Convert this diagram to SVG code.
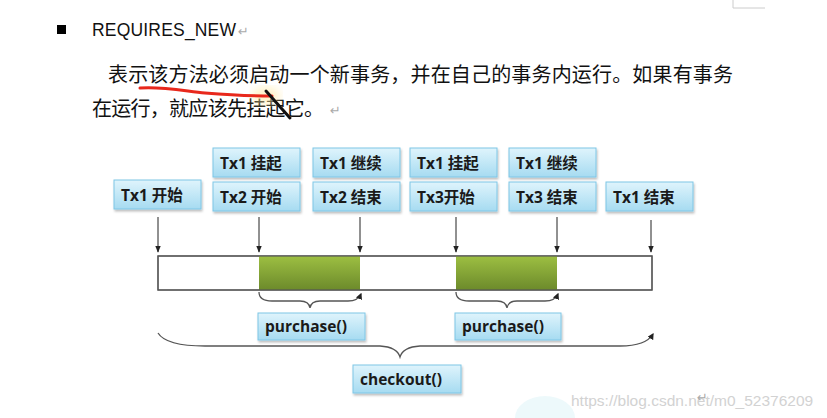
<svg xmlns="http://www.w3.org/2000/svg" width="827" height="418" viewBox="0 0 827 418">
<defs>
<linearGradient id="boxg" x1="0" y1="0" x2="0" y2="1">
<stop offset="0" stop-color="#dff4fc"/>
<stop offset="1" stop-color="#a6dbf1"/>
</linearGradient>
<linearGradient id="greeng" x1="0" y1="0" x2="0" y2="1">
<stop offset="0" stop-color="#9dbf42"/>
<stop offset="1" stop-color="#6c8a2b"/>
</linearGradient>
<filter id="sh" x="-10%" y="-20%" width="130%" height="150%">
<feDropShadow dx="1" dy="2" stdDeviation="1.2" flood-color="#000" flood-opacity="0.25"/>
</filter>
<filter id="blur"><feGaussianBlur stdDeviation="5"/></filter>
<marker id="ah" viewBox="0 0 10 10" refX="9" refY="5" markerWidth="7" markerHeight="7" orient="auto">
<path d="M0,1 L10,5 L0,9 Z" fill="#222"/>
</marker>
<marker id="bh" viewBox="0 0 10 10" refX="8" refY="5" markerWidth="5" markerHeight="5" orient="auto">
<path d="M0,0 L10,5 L0,10 Z" fill="#222"/>
</marker>
<style>
.box{fill:url(#boxg);stroke:#7ec6e6;stroke-width:1;filter:url(#sh)}
.bt{font-family:"Open Sans","Noto Sans CJK SC",sans-serif;font-weight:bold;font-size:15.5px;fill:#1a1a1a}
.arr{stroke:#222;stroke-width:1;fill:none;marker-end:url(#ah)}
.brace{stroke:#555;stroke-width:1.3;fill:none;marker-end:url(#bh)}
.cn{font-family:"Noto Sans CJK SC",sans-serif;font-size:20px;fill:#111}
.ret{font-family:"DejaVu Sans",sans-serif;font-size:13px;fill:#aaa}
</style>
</defs>
<rect width="827" height="418" fill="#fff"/>
<path d="M733,0 V8 H765" stroke="#ccc" stroke-width="1" fill="none"/>
<g id="header">
<rect x="57" y="25" width="9" height="9" fill="#000"/>
<text x="92" y="36" font-family="Liberation Sans, sans-serif" font-size="17.5" fill="#111" textLength="144">REQUIRES_NEW</text>
<text x="238" y="36" class="ret">↵</text>
</g>
<g id="paragraph">
<text x="108" y="82" class="cn" textLength="625">表示该方法必须启动一个新事务，并在自己的事务内运行。如果有事务</text>
<text x="92" y="116" class="cn" textLength="232">在运行，就应该先挂起它。</text>
<text x="330" y="115" class="ret">↵</text>
<ellipse cx="266" cy="96" rx="14" ry="9" fill="#ffe9a0" opacity="0.6" filter="url(#blur)"/>
<path d="M140,88 C160,86 185,91 205,93 C230,95 250,96 272,96" stroke="#e8281c" stroke-width="3" fill="none" stroke-linecap="round"/>
<path d="M266,91 L290,118" stroke="#111" stroke-width="3" stroke-linecap="round"/>
</g>
<g id="n-tx1-start"><rect class="box" x="114" y="180" width="87" height="29"/><text class="bt" x="121" y="201">Tx1 开始</text></g>
<g id="n-tx1-suspend-a"><rect class="box" x="213" y="148" width="87" height="29"/><text class="bt" x="220" y="169">Tx1 挂起</text></g>
<g id="n-tx2-start"><rect class="box" x="213" y="182" width="87" height="29"/><text class="bt" x="220" y="203">Tx2 开始</text></g>
<g id="n-tx1-resume-a"><rect class="box" x="313" y="148" width="87" height="29"/><text class="bt" x="320" y="169">Tx1 继续</text></g>
<g id="n-tx2-end"><rect class="box" x="313" y="182" width="87" height="29"/><text class="bt" x="320" y="203">Tx2 结束</text></g>
<g id="n-tx1-suspend-b"><rect class="box" x="410" y="148" width="87" height="29"/><text class="bt" x="417" y="169">Tx1 挂起</text></g>
<g id="n-tx3-start"><rect class="box" x="410" y="182" width="87" height="29"/><text class="bt" x="417" y="203">Tx3开始</text></g>
<g id="n-tx1-resume-b"><rect class="box" x="509" y="148" width="87" height="29"/><text class="bt" x="516" y="169">Tx1 继续</text></g>
<g id="n-tx3-end"><rect class="box" x="509" y="182" width="87" height="29"/><text class="bt" x="516" y="203">Tx3 结束</text></g>
<g id="n-tx1-end"><rect class="box" x="606" y="182" width="87" height="29"/><text class="bt" x="613" y="203">Tx1 结束</text></g>
<g id="timeline">
<rect x="158" y="256" width="494" height="34" fill="#fff" stroke="#555" stroke-width="1.2"/>
<rect x="259" y="256" width="101" height="34" fill="url(#greeng)"/>
<rect x="456" y="256" width="101" height="34" fill="url(#greeng)"/>
<rect x="158" y="256" width="494" height="34" fill="none" stroke="#555" stroke-width="1.2"/>
</g>
<g id="n-purchase-1"><rect class="box" x="258" y="313" width="107" height="27"/><text class="bt" x="265" y="332">purchase()</text></g>
<g id="n-purchase-2"><rect class="box" x="455" y="313" width="106" height="27"/><text class="bt" x="462" y="332">purchase()</text></g>
<g id="n-checkout"><rect class="box" x="353" y="365" width="108" height="28"/><text class="bt" x="360" y="385">checkout()</text></g>
<g id="connectors">
<line class="arr" x1="158" y1="217" x2="158" y2="252"/>
<line class="arr" x1="259" y1="217" x2="259" y2="252"/>
<line class="arr" x1="360" y1="217" x2="360" y2="252"/>
<line class="arr" x1="456" y1="217" x2="456" y2="252"/>
<line class="arr" x1="557" y1="217" x2="557" y2="252"/>
<line class="arr" x1="651" y1="220" x2="651" y2="252"/>
<path class="brace" d="M259,292 Q259,301 272,301 L300,301 Q309,301 310,308 Q311,301 320,301 L348,301 Q358,301 361,294"/>
<path class="brace" d="M456,292 Q456,301 469,301 L497,301 Q506,301 507,308 Q508,301 517,301 L545,301 Q555,301 558,294"/>
<path class="brace" d="M158,333 Q166,346 205,346 L380,346 Q397,347 400,357 Q403,347 420,346 L620,346 Q646,346 653,334"/>
</g>
<g id="watermark">
<ellipse cx="545" cy="418" rx="30" ry="22" fill="#e6f7fa" opacity="0.7"/>
<text x="571" y="406" font-family="Liberation Sans, sans-serif" font-size="15.5" fill="#d2d2d2">https://blog.csdn.net/m0_52376209</text>
<text x="697" y="402" class="ret">↵</text>
</g>
</svg>
